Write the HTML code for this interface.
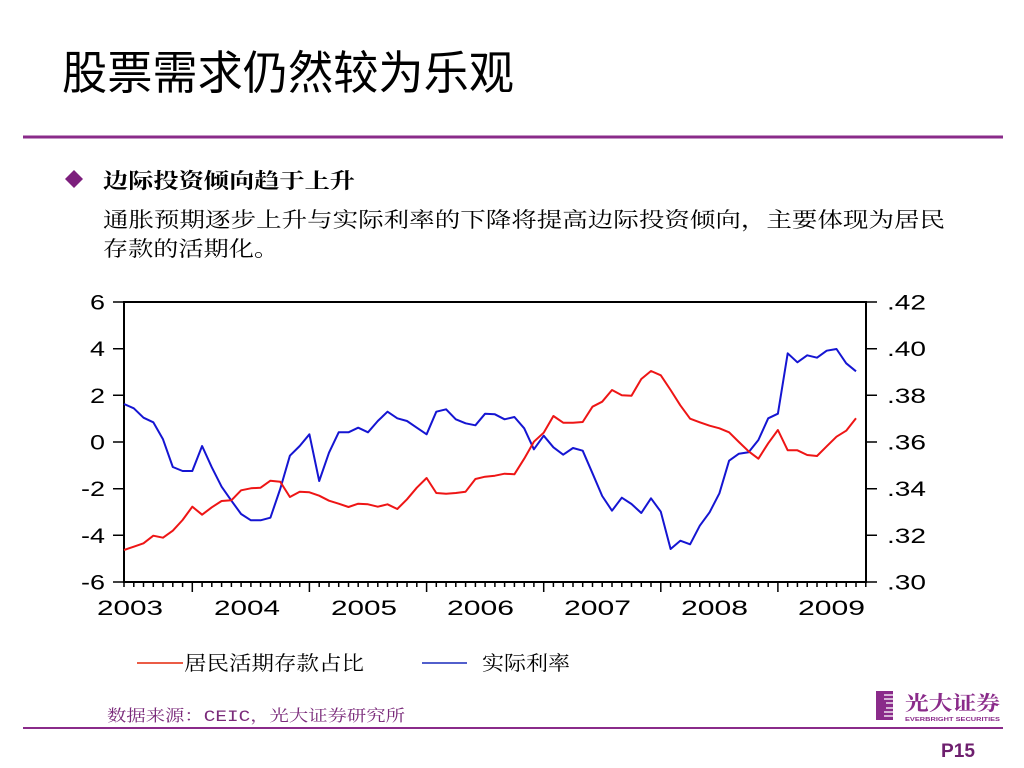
<!DOCTYPE html>
<html>
<head>
<meta charset="utf-8">
<style>
html,body{margin:0;padding:0;background:#fff;}
body{width:1024px;height:768px;overflow:hidden;}
svg{display:block;}
</style>
</head>
<body>
<svg width="1024" height="768" viewBox="0 0 1024 768" xmlns="http://www.w3.org/2000/svg">
<rect width="1024" height="768" fill="#fff"/>

<!-- Title -->
<text x="62" y="89" font-family="'Liberation Sans','Noto Sans CJK SC',sans-serif" font-size="46" fill="#000" textLength="452" lengthAdjust="spacingAndGlyphs">股票需求仍然较为乐观</text>

<!-- header line -->
<rect x="23" y="135.5" width="980" height="3" fill="#8a2b8a"/>

<!-- bullet -->
<polygon points="74,170 83,179 74,188 65,179" fill="#7d1f7d"/>
<text x="103" y="188" font-family="'Liberation Serif','Noto Serif CJK SC',serif" font-weight="bold" font-size="21" fill="#000" textLength="252" lengthAdjust="spacingAndGlyphs">边际投资倾向趋于上升</text>
<text x="103" y="227" font-family="'Liberation Serif','Noto Serif CJK SC',serif" font-size="21" fill="#000" textLength="842" lengthAdjust="spacingAndGlyphs">通胀预期逐步上升与实际利率的下降将提高边际投资倾向，主要体现为居民</text>
<text x="103" y="256" font-family="'Liberation Serif','Noto Serif CJK SC',serif" font-size="21" fill="#000" textLength="176" lengthAdjust="spacingAndGlyphs">存款的活期化。</text>

<!-- Chart frame -->
<rect x="124" y="302" width="742" height="280" fill="none" stroke="#000" stroke-width="2"/>

<!-- left ticks -->
<path d="M113 302H124M113 348.7H124M113 395.3H124M113 442H124M113 488.7H124M113 535.3H124M113 582H124" stroke="#000" stroke-width="1.5"/>
<!-- right ticks -->
<path d="M866 302H877M866 348.7H877M866 395.3H877M866 442H877M866 488.7H877M866 535.3H877M866 582H877" stroke="#000" stroke-width="1.5"/>

<!-- bottom ticks -->
<path stroke="#000" stroke-width="1.5" d="M124 582v5M133.8 582v5M143.5 582v5M153.3 582v5M163 582v5M172.8 582v5M182.6 582v5M192.3 582v10M202.1 582v5M211.8 582v5M221.6 582v5M231.4 582v5M241.1 582v5M250.9 582v5M260.6 582v5M270.4 582v5M280.2 582v5M289.9 582v5M299.7 582v5M309.4 582v10M319.2 582v5M329 582v5M338.7 582v5M348.5 582v5M358.2 582v5M368 582v5M377.8 582v5M387.5 582v5M397.3 582v5M407 582v5M416.8 582v5M426.6 582v10M436.3 582v5M446.1 582v5M455.8 582v5M465.6 582v5M475.4 582v5M485.1 582v5M494.9 582v5M504.6 582v5M514.4 582v5M524.2 582v5M533.9 582v5M543.7 582v10M553.4 582v5M563.2 582v5M573 582v5M582.7 582v5M592.5 582v5M602.2 582v5M612 582v5M621.8 582v5M631.5 582v5M641.3 582v5M651 582v5M660.8 582v10M670.6 582v5M680.3 582v5M690.1 582v5M699.8 582v5M709.6 582v5M719.4 582v5M729.1 582v5M738.9 582v5M748.6 582v5M758.4 582v5M768.2 582v5M777.9 582v10M787.7 582v5M797.4 582v5M807.2 582v5M817 582v5M826.7 582v5M836.5 582v5M846.2 582v5M856 582v5M865.8 582v5"/>

<!-- left labels -->
<g font-family="'Liberation Sans',sans-serif" font-size="21" fill="#000">
<text x="90" y="309.5" textLength="15" lengthAdjust="spacingAndGlyphs">6</text>
<text x="90" y="356.2" textLength="15" lengthAdjust="spacingAndGlyphs">4</text>
<text x="90" y="402.8" textLength="15" lengthAdjust="spacingAndGlyphs">2</text>
<text x="90" y="449.5" textLength="15" lengthAdjust="spacingAndGlyphs">0</text>
<text x="81" y="496.2" textLength="24" lengthAdjust="spacingAndGlyphs">-2</text>
<text x="81" y="542.8" textLength="24" lengthAdjust="spacingAndGlyphs">-4</text>
<text x="81" y="589.5" textLength="24" lengthAdjust="spacingAndGlyphs">-6</text>
</g>
<!-- right labels -->
<g font-family="'Liberation Sans',sans-serif" font-size="21" fill="#000">
<text x="887" y="309.5" textLength="39" lengthAdjust="spacingAndGlyphs">.42</text>
<text x="887" y="356.2" textLength="39" lengthAdjust="spacingAndGlyphs">.40</text>
<text x="887" y="402.8" textLength="39" lengthAdjust="spacingAndGlyphs">.38</text>
<text x="887" y="449.5" textLength="39" lengthAdjust="spacingAndGlyphs">.36</text>
<text x="887" y="496.2" textLength="39" lengthAdjust="spacingAndGlyphs">.34</text>
<text x="887" y="542.8" textLength="39" lengthAdjust="spacingAndGlyphs">.32</text>
<text x="887" y="589.5" textLength="39" lengthAdjust="spacingAndGlyphs">.30</text>
</g>
<!-- year labels -->
<g font-family="'Liberation Sans',sans-serif" font-size="21" fill="#000">
<text x="97" y="615" textLength="66" lengthAdjust="spacingAndGlyphs">2003</text>
<text x="214" y="615" textLength="66" lengthAdjust="spacingAndGlyphs">2004</text>
<text x="331" y="615" textLength="66" lengthAdjust="spacingAndGlyphs">2005</text>
<text x="447" y="615" textLength="67" lengthAdjust="spacingAndGlyphs">2006</text>
<text x="564" y="615" textLength="67" lengthAdjust="spacingAndGlyphs">2007</text>
<text x="681" y="615" textLength="67" lengthAdjust="spacingAndGlyphs">2008</text>
<text x="798" y="615" textLength="67" lengthAdjust="spacingAndGlyphs">2009</text>
</g>

<!-- blue series -->
<polyline fill="none" stroke="#1515d2" stroke-width="2" stroke-linejoin="round" points="124,404 133.8,408.3 143.5,417.7 153.3,422.3 163,439.3 172.8,467 182.6,471 192.3,471 202.1,446 211.8,467.3 221.6,486.7 231.4,500.7 241.1,514 250.9,520.3 260.6,520.3 270.4,517.7 280.2,489 289.9,455.7 299.7,446 309.4,434.3 319.2,481 329,452.7 338.7,432.3 348.5,432.3 358.2,427.7 368,432.3 377.8,421 387.5,411.7 397.3,418.3 407,421 416.8,427.7 426.6,434.3 436.3,411.7 446.1,409.3 455.8,419.3 465.6,423.3 475.4,425.3 485.1,413.7 494.9,414.3 504.6,419.3 514.4,417 524.2,428.3 533.9,449.3 543.7,435.7 553.4,447.3 563.2,454.7 573,448 582.7,450.7 592.5,473.3 602.2,496 612,510.7 621.8,497.7 631.5,504 641.3,513 651,498.3 660.8,511.7 670.6,549 680.3,540.7 690.1,544.3 699.8,525.7 709.6,512.3 719.4,493.3 729.1,460.7 738.9,453.7 748.6,452.3 758.4,440 768.2,418.3 777.9,413.7 787.7,353.3 797.4,362.3 807.2,355.3 817,357.7 826.7,350.7 836.5,349 846.2,363.3 856,371.3"/>

<!-- red series -->
<polyline fill="none" stroke="#ee1515" stroke-width="2" stroke-linejoin="round" points="124,550 133.8,546.7 143.5,543.3 153.3,535.7 163,537.7 172.8,530.7 182.6,520 192.3,506.7 202.1,514.7 211.8,507.3 221.6,501 231.4,500.3 241.1,490.3 250.9,488.3 260.6,487.7 270.4,480.7 280.2,481.7 289.9,497 299.7,491.7 309.4,492.3 319.2,495.7 329,500.7 338.7,503.7 348.5,507 358.2,503.7 368,504.3 377.8,506.7 387.5,504.3 397.3,509 407,499.3 416.8,487.7 426.6,478 436.3,493 446.1,493.7 455.8,493 465.6,491.7 475.4,479 485.1,476.7 494.9,475.7 504.6,473.7 514.4,474.3 524.2,458.7 533.9,441.7 543.7,432.7 553.4,416 563.2,422.7 573,422.7 582.7,422 592.5,406.7 602.2,401.7 612,390 621.8,395.3 631.5,395.7 641.3,379 651,371 660.8,375.3 670.6,390 680.3,405.3 690.1,418.7 699.8,422.3 709.6,425.7 719.4,428.3 729.1,432.3 738.9,442 748.6,451.3 758.4,458.7 768.2,443.3 777.9,430 787.7,450.3 797.4,450.3 807.2,455 817,456 826.7,446.3 836.5,436.7 846.2,430.7 856,418.3"/>

<!-- legend -->
<line x1="137" y1="663" x2="183" y2="663" stroke="#e8452c" stroke-width="1.8"/>
<text x="184" y="670" font-family="'Liberation Serif','Noto Serif CJK SC',serif" font-size="20" fill="#000" textLength="180" lengthAdjust="spacingAndGlyphs">居民活期存款占比</text>
<line x1="422" y1="663" x2="467" y2="663" stroke="#3a48c4" stroke-width="1.8"/>
<text x="482" y="670" font-family="'Liberation Serif','Noto Serif CJK SC',serif" font-size="20" fill="#000" textLength="88" lengthAdjust="spacingAndGlyphs">实际利率</text>

<!-- source -->
<text x="107" y="721" font-family="'Liberation Mono','Noto Serif CJK SC',serif" font-size="16" fill="#7a2a7a" textLength="298" lengthAdjust="spacingAndGlyphs">数据来源：CEIC，光大证券研究所</text>

<!-- footer line -->
<rect x="23" y="727" width="980" height="2" fill="#8a2b8a"/>

<!-- logo -->
<rect x="876" y="691" width="17" height="29" fill="#8a2b8a"/>
<g stroke="#fff" stroke-width="1.3">
<line x1="884" y1="695" x2="893" y2="695"/>
<line x1="884" y1="699" x2="893" y2="699"/>
<line x1="886" y1="703" x2="893" y2="703"/>
<line x1="886" y1="708" x2="893" y2="708"/>
<line x1="884" y1="712" x2="893" y2="712"/>
<line x1="884" y1="716" x2="893" y2="716"/>
</g>
<text x="905" y="710" font-family="'Liberation Serif','Noto Serif CJK SC',serif" font-weight="bold" font-size="20" fill="#8a2b8a" textLength="95" lengthAdjust="spacingAndGlyphs">光大证券</text>
<text x="905" y="721" font-family="'Liberation Sans',sans-serif" font-weight="bold" font-size="5.5" fill="#8a2b8a" textLength="95" lengthAdjust="spacingAndGlyphs">EVERBRIGHT SECURITIES</text>

<!-- page number -->
<text x="941" y="757" font-family="'Liberation Sans',sans-serif" font-weight="bold" font-size="19" fill="#6e1f6e" textLength="34" lengthAdjust="spacingAndGlyphs">P15</text>
</svg>
</body>
</html>
